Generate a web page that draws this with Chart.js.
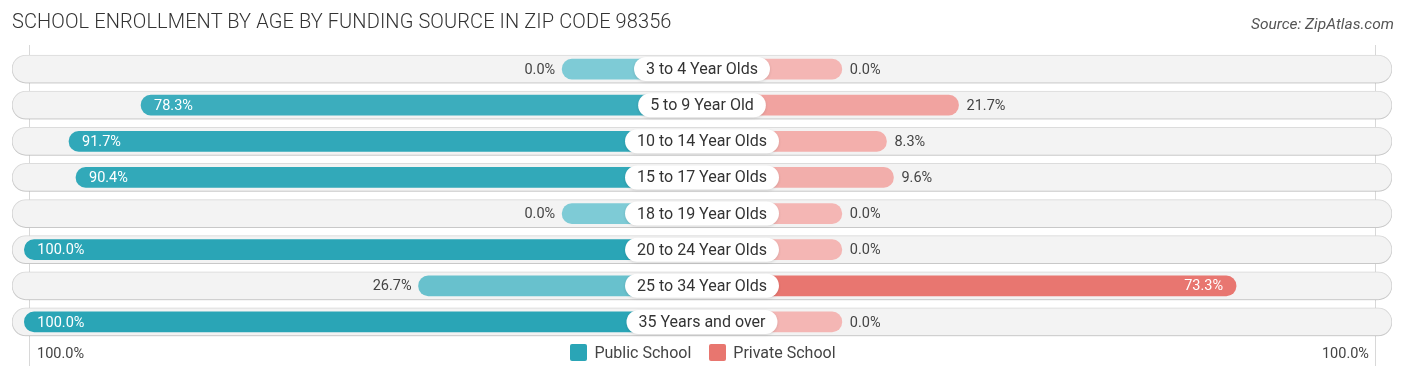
<!DOCTYPE html>
<html>
<head>
<meta charset="utf-8">
<script src="https://cdn.jsdelivr.net/npm/chart.js@4.4.1/dist/chart.umd.min.js"></script>
<style>
  body { margin: 0; background: #fff; font-family: Roboto, "Noto Sans", sans-serif; }
  #wrap { position: relative; width: 1406px; height: 378px; }
  #title { position: absolute; left: 12px; top: 9px; font-size: 20px; color: #333; font-weight: 300; letter-spacing: 0.1px; }
  #source { position: absolute; right: 12px; top: 15px; font-size: 15.5px; color: #555; font-style: italic; }
  .axislbl { position: absolute; top: 345px; font-size: 14.5px; color: #444; }
  #legend { position: absolute; top: 343px; left: 0; width: 1406px; display: flex; justify-content: center; gap: 18px; font-size: 16px; color: #444; }
  #legend span.sw { display: inline-block; width: 17px; height: 17px; border-radius: 2px; vertical-align: -3px; margin-right: 7px; }
</style>
</head>
<body>
<div id="wrap">
  <canvas id="chart"></canvas>
  <div id="title">SCHOOL ENROLLMENT BY AGE BY FUNDING SOURCE IN ZIP CODE 98356</div>
  <div id="source">Source: ZipAtlas.com</div>
  <div class="axislbl" style="left:37px">100.0%</div>
  <div class="axislbl" style="right:37px">100.0%</div>
  <div id="legend">
    <div><span class="sw" style="background:#2aa5b6"></span>Public School</div>
    <div><span class="sw" style="background:#e8766f"></span>Private School</div>
  </div>
</div>
<script>
const ageGroups = ["3 to 4 Year Olds", "5 to 9 Year Old", "10 to 14 Year Olds", "15 to 17 Year Olds",
  "18 to 19 Year Olds", "20 to 24 Year Olds", "25 to 34 Year Olds", "35 Years and over"]
const publicSchool = [0.0, 78.3, 91.7, 90.4, 0.0, 100.0, 26.7, 100.0]
const privateSchool = [0.0, 21.7, 8.3, 9.6, 0.0, 0.0, 73.3, 0.0]

// space taken by the centre label, in percent units of the bar scale
const STUB = 26
const EDGE = 128.3

function mix(a, b, t) {
  const r = Math.round(a[0] + (b[0] - a[0]) * t)
  const g = Math.round(a[1] + (b[1] - a[1]) * t)
  const bl = Math.round(a[2] + (b[2] - a[2]) * t)
  return `rgb(${r},${g},${bl})`
}
const pubColors = publicSchool.map(v => mix([126, 203, 214], [42, 165, 182], v / 100))
const privColors = privateSchool.map(v => mix([244, 182, 180], [228, 95, 87], v / 100))

const trackShadow = {
  id: "trackShadow",
  beforeDatasetDraw(chart, args) {
    if (args.index === 2) {
      const ctx = chart.ctx
      ctx.save()
      ctx.shadowColor = "rgba(0,0,0,0.18)"
      ctx.shadowBlur = 3
      ctx.shadowOffsetY = 1
    }
  },
  afterDatasetDraw(chart, args) {
    if (args.index === 2) chart.ctx.restore()
  },
  beforeDatasetsDraw(chart) {
    const ctx = chart.ctx
    const x = chart.scales.x
    ctx.save()
    ctx.strokeStyle = "#d8d8d8"
    ctx.lineWidth = 1
    ;[-125.2, 125.2].forEach(v => {
      const px = Math.round(x.getPixelForValue(v)) + 0.5
      ctx.beginPath()
      ctx.moveTo(px, 45)
      ctx.lineTo(px, 366)
      ctx.stroke()
    })
    ctx.restore()
  }
}

const labelsPlugin = {
  id: "rowLabels",
  afterDatasetsDraw(chart) {
    const ctx = chart.ctx
    const x = chart.scales.x
    const y = chart.scales.y
    const cx = x.getPixelForValue(0)
    ctx.save()
    ageGroups.forEach((name, i) => {
      const py = y.getPixelForValue(i)
      // centre pill
      ctx.font = "16px Roboto"
      const w = ctx.measureText(name).width + 24
      ctx.save()
      ctx.shadowColor = "rgba(0,0,0,0.12)"
      ctx.shadowBlur = 3
      ctx.shadowOffsetY = 1
      ctx.fillStyle = "#fff"
      ctx.beginPath()
      ctx.roundRect(cx - w / 2, py - 12, w, 24, 12)
      ctx.fill()
      ctx.restore()
      ctx.fillStyle = "#333"
      ctx.textAlign = "center"
      ctx.textBaseline = "middle"
      ctx.fillText(name, cx, py + 1)

      // values
      ctx.font = "14.5px Roboto"
      const pv = publicSchool[i]
      const start = x.getPixelForValue(-(STUB + pv))
      if (pv > 50) {
        ctx.fillStyle = "#fff"
        ctx.textAlign = "left"
        ctx.fillText(pv.toFixed(1) + "%", start + 13, py + 1)
      } else {
        ctx.fillStyle = "#444"
        ctx.textAlign = "right"
        ctx.fillText(pv.toFixed(1) + "%", start - 7, py + 1)
      }
      const rv = privateSchool[i]
      const end = x.getPixelForValue(STUB + rv)
      if (rv > 50) {
        ctx.fillStyle = "#fff"
        ctx.textAlign = "right"
        ctx.fillText(rv.toFixed(1) + "%", end - 13, py + 1)
      } else {
        ctx.fillStyle = "#444"
        ctx.textAlign = "left"
        ctx.fillText(rv.toFixed(1) + "%", end + 8, py + 1)
      }
    })
    ctx.restore()
  }
}

new Chart(document.getElementById("chart"), {
  type: "bar",
  data: {
    labels: ageGroups,
    datasets: [
      {
        label: "Public School",
        data: publicSchool.map(v => [-(STUB + v), 0]),
        backgroundColor: pubColors,
        barThickness: 20,
        borderRadius: 10,
        borderSkipped: false,
        grouped: false,
        order: 0
      },
      {
        label: "Private School",
        data: privateSchool.map(v => [0, STUB + v]),
        backgroundColor: privColors,
        barThickness: 20,
        borderRadius: 10,
        borderSkipped: false,
        grouped: false,
        order: 0
      },
      {
        label: "track",
        data: ageGroups.map(() => [-EDGE, EDGE]),
        backgroundColor: "#f3f3f3",
        borderColor: "#e2e2e2",
        borderWidth: 1,
        barThickness: 28,
        borderRadius: 14,
        borderSkipped: false,
        grouped: false,
        order: 1
      }
    ]
  },
  options: {
    indexAxis: "y",
    responsive: true,
    maintainAspectRatio: false,
    animation: false,
    layout: { padding: { left: 12, right: 14, top: 51, bottom: 38 } },
    scales: {
      x: { display: false, min: -EDGE, max: EDGE },
      y: { display: false, offset: true }
    },
    plugins: {
      legend: { display: false },
      tooltip: { enabled: false }
    }
  },
  plugins: [trackShadow, labelsPlugin]
})
</script>
</body>
</html>
